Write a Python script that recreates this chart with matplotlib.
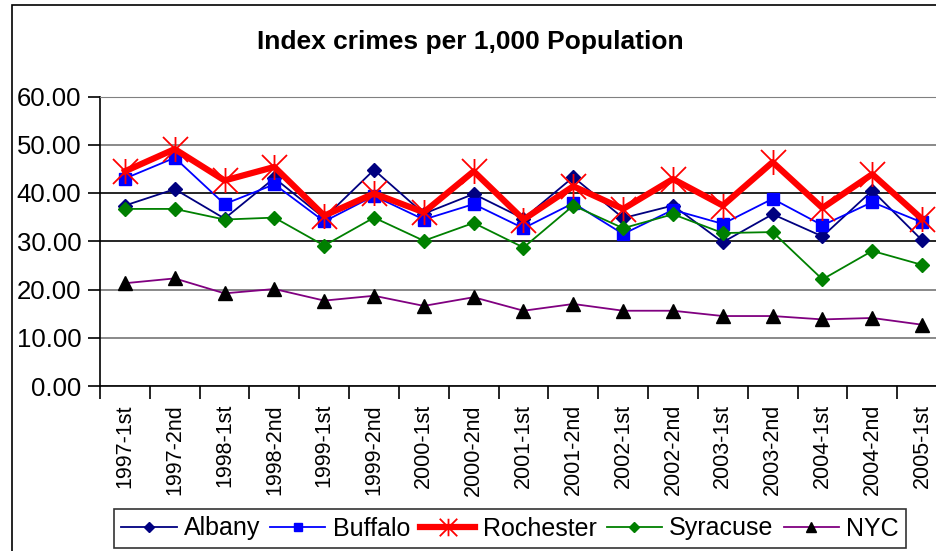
import matplotlib
matplotlib.use('Agg')
import matplotlib.pyplot as plt
from matplotlib.path import Path
from matplotlib.patches import Rectangle

plt.rcParams['font.family'] = ['Liberation Sans', 'DejaVu Sans']

# half-year periods
periods = ['1997-1st', '1997-2nd', '1998-1st', '1998-2nd', '1999-1st', '1999-2nd',
           '2000-1st', '2000-2nd', '2001-1st', '2001-2nd', '2002-1st', '2002-2nd',
           '2003-1st', '2003-2nd', '2004-1st', '2004-2nd', '2005-1st']

albany = [37.4, 40.8, 34.7, 43.1, 34.8, 44.8, 35.7, 39.8, 34.7, 43.3,
          34.8, 37.4, 29.8, 35.6, 31.0, 40.5, 30.2]
buffalo = [43.0, 47.3, 37.7, 41.8, 34.1, 39.4, 34.5, 37.7, 32.7, 37.9,
           31.5, 36.5, 33.6, 38.8, 33.3, 38.1, 33.9]
rochester = [44.5, 49.1, 42.6, 45.4, 35.3, 39.9, 36.0, 44.5, 34.5, 41.4,
             36.7, 42.9, 37.4, 46.4, 36.9, 43.9, 34.6]
syracuse = [36.7, 36.7, 34.5, 34.9, 29.1, 34.9, 30.1, 33.8, 28.7, 37.4,
            32.7, 35.6, 31.7, 31.9, 22.1, 28.0, 25.1]
nyc = [21.3, 22.3, 19.2, 20.1, 17.7, 18.7, 16.6, 18.4, 15.6, 17.0,
       15.6, 15.6, 14.5, 14.5, 13.8, 14.1, 12.7]

yticks = [0, 10, 20, 30, 40, 50, 60]

# excel-like star marker: an X with a vertical bar
star = Path([(-1, -1), (1, 1), (-1, 1), (1, -1), (0, -1), (0, 1)],
            [Path.MOVETO, Path.LINETO, Path.MOVETO, Path.LINETO, Path.MOVETO, Path.LINETO])

W, H = 937, 551
fig = plt.figure(figsize=(W / 100, H / 100), dpi=100)
ax = fig.add_axes([100 / W, 1 - 386 / H, 847 / W, (386 - 96.5) / H])

# outer chart frame
fig.patches.append(Rectangle((12 / W, -0.1), 1.2, 1 - 5 / H + 0.1, transform=fig.transFigure,
                             fill=False, edgecolor='black', linewidth=1.2))

x = list(range(len(periods)))
ax.plot(x, albany, color='#000080', lw=1.3, marker='D', ms=7, label='Albany')
ax.plot(x, buffalo, color='#0000FF', lw=1.3, marker='s', ms=8, label='Buffalo')
ax.plot(x, rochester, color='#FF0000', lw=4.5, marker=star, ms=18, mew=1.3,
        mec='#FF0000', label='Rochester')
ax.plot(x, syracuse, color='#008000', lw=1.3, marker='D', ms=7, mec='#008000', label='Syracuse')
ax.plot(x, nyc, color='#800080', lw=1.3, marker='^', ms=10, mfc='black', mec='black', label='NYC')

ax.set_xlim(-0.5, len(periods) - 0.5)
ax.set_ylim(0, 60)
ax.set_yticks(yticks)
ax.set_yticklabels(['%.2f' % v for v in yticks], fontsize=18.5)
ax.set_xticks([i + 0.5 for i in range(-1, len(periods))], minor=False)
ax.set_xticklabels([])
ax.set_xticks(x, minor=True)
ax.set_xticklabels(periods, minor=True, rotation=90, fontsize=15.5)
ax.tick_params(axis='x', which='minor', length=0, pad=13)
ax.tick_params(axis='x', which='major', length=9, width=1.2, direction='out')
ax.tick_params(axis='y', length=9, width=1.2, direction='out', pad=4.5)

ax.set_axisbelow(True)
ax.grid(axis='y', color='#808080', lw=1.3)
for i, gl in enumerate(ax.yaxis.get_gridlines()):
    if yticks[i] in (30, 40):
        gl.set_color('black')
        gl.set_linewidth(1.2)

ax.spines['left'].set_linewidth(1.2)
ax.spines['bottom'].set_linewidth(1.2)
ax.spines['top'].set_color('#808080')
ax.spines['right'].set_visible(False)

fig.text(470 / W, 1 - 42 / H, 'Index crimes per 1,000 Population', ha='center', va='center',
         fontsize=19, fontweight='bold')

leg = fig.legend(loc='upper left', bbox_to_anchor=(114 / W, 1 - 509 / H), ncol=5,
                 fontsize=18, frameon=True, fancybox=False, edgecolor='black',
                 handlelength=2.2, handletextpad=0.3, columnspacing=0.4, borderpad=0.3,
                 borderaxespad=0, markerscale=0.7)
leg.get_frame().set_linewidth(1.2)

fig.savefig('out.png', dpi=100)
